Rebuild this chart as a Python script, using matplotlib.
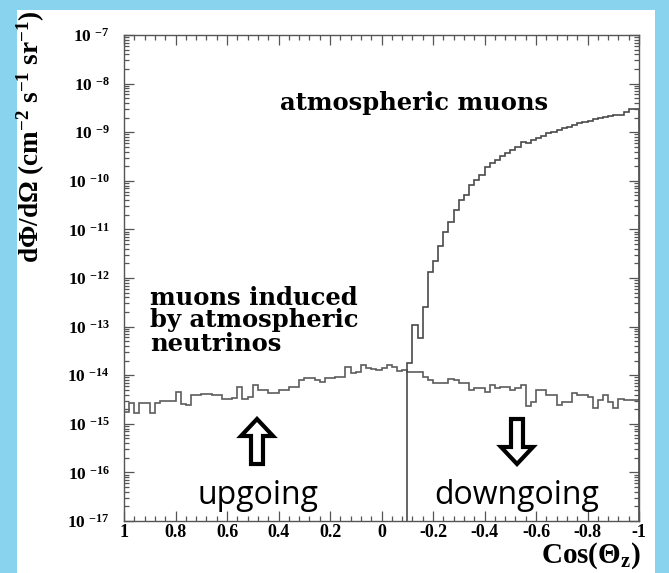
import numpy as np
import matplotlib
matplotlib.use("Agg")
import matplotlib.pyplot as plt
from matplotlib.patches import Rectangle, Polygon
from matplotlib.ticker import MultipleLocator, LogLocator, NullFormatter

plt.rcParams['mathtext.fontset'] = 'custom'
plt.rcParams['mathtext.rm'] = 'Liberation Serif:bold'
plt.rcParams['mathtext.bf'] = 'Liberation Serif:bold'
plt.rcParams['mathtext.it'] = 'Liberation Serif:bold:italic'
plt.rcParams['mathtext.default'] = 'rm'
SERIF = 'Liberation Serif'

# 100 bins of cos(theta_z), histogram runs from +1 (left) to -1 (right)
cos_edges = np.linspace(1, -1, 101)

# muons induced by atmospheric neutrinos, units of 1e-15 cm-2 s-1 sr-1
nu_flux_e15 = [1.78, 2.63, 1.66, 2.65, 2.65, 1.70, 2.63, 3.0, 3.0, 3.0,
               4.6, 2.5, 2.45, 3.9, 3.9, 4.2, 4.2, 4.0, 3.9, 3.3,
               3.3, 3.4, 5.6, 3.3, 3.6, 6.3, 5.0, 5.0, 4.3, 4.3,
               5.0, 5.0, 5.75, 5.75, 7.9, 8.7, 8.7, 8.0, 7.4, 8.7,
               8.7, 9.3, 9.0, 14.8, 11.0, 11.5, 16.2, 13.8, 13.2, 12.9,
               14.0, 16.0, 14.5, 12.0, 12.5, 11.7, 11.7, 11.7, 9.3, 7.9,
               6.8, 6.8, 6.8, 8.5, 7.9, 6.8, 6.8, 5.0, 5.4, 5.4,
               4.6, 6.3, 5.4, 5.6, 5.6, 5.0, 5.4, 6.3, 2.3, 2.8,
               5.0, 5.0, 3.9, 3.9, 2.45, 2.8, 2.8, 4.4, 3.9, 3.9,
               3.6, 2.1, 3.1, 3.9, 2.8, 2.1, 3.3, 3.1, 3.1, 3.1]

# atmospheric muons: empty for cos > -0.1, so first filled bin is number 55
atm_first_bin = 55
atm_flux = [1.8e-14, 1.07e-13, 5.9e-14, 2.5e-13, 1.35e-12, 2.2e-12, 4.6e-12, 8.9e-12, 1.44e-11,
            2.5e-11, 4.0e-11, 5.1e-11, 8.2e-11, 1.04e-10, 1.32e-10, 1.95e-10, 2.3e-10, 2.7e-10,
            3.2e-10, 3.7e-10, 4.3e-10, 4.9e-10, 6.2e-10, 5.9e-10, 6.9e-10, 7.5e-10, 8.3e-10,
            9.5e-10, 1.02e-9, 1.12e-9, 1.2e-9, 1.26e-9, 1.41e-9, 1.58e-9, 1.65e-9, 1.73e-9,
            1.85e-9, 1.94e-9, 2.1e-9, 2.2e-9, 2.3e-9, 2.3e-9, 2.6e-9, 2.95e-9, 2.95e-9]

xtick_vals = [1, 0.8, 0.6, 0.4, 0.2, 0, -0.2, -0.4, -0.6, -0.8, -1]
xtick_labels = ['1', '0.8', '0.6', '0.4', '0.2', '0', '-0.2', '-0.4', '-0.6', '-0.8', '-1']
ytick_exps = [-17, -16, -15, -14, -13, -12, -11, -10, -9, -8, -7]

W, H = 669, 573
fig = plt.figure(figsize=(W / 100, H / 100), dpi=100)
fig.patch.set_facecolor('#8ad3ef')
# white slide panel behind the plot
fig.add_artist(Rectangle((17 / W, 0), (655 - 17) / W, (H - 10) / H, transform=fig.transFigure,
                         facecolor='white', edgecolor='none', zorder=0))

ax = fig.add_axes([124 / W, (H - 521) / H, 515 / W, 486 / H])
ax.set_facecolor('white')
ax.set_yscale('log')

ax.stairs(np.array(nu_flux_e15) * 1e-15, cos_edges, baseline=None, color='#5c5c5c', lw=1.2)
ax.stairs(atm_flux, cos_edges[atm_first_bin:], baseline=1e-20, color='#4a4a4a', lw=1.2)

ax.set_xlim(1, -1)
ax.set_ylim(1e-17, 1e-7)

ax.set_xticks(xtick_vals)
ax.set_xticklabels(xtick_labels, fontfamily=SERIF, fontweight='bold', fontsize=13)
ax.xaxis.set_minor_locator(MultipleLocator(0.04))
ax.set_yticks([10.0 ** e for e in ytick_exps])
ax.set_yticklabels(['10 $^{%d}$' % e for e in ytick_exps], fontfamily=SERIF, fontweight='bold', fontsize=12.5)
ax.yaxis.set_minor_locator(LogLocator(base=10, subs=np.arange(2, 10), numticks=100))
ax.yaxis.set_minor_formatter(NullFormatter())
ax.tick_params(which='both', direction='in', top=True, right=True, color='#555555', width=0.9)
ax.tick_params(which='major', length=7.5)
ax.tick_params(which='minor', length=3.5)
ax.tick_params(axis='x', pad=2)
ax.tick_params(axis='y', pad=10)
for s in ax.spines.values():
    s.set_color('#555555')
    s.set_linewidth(1.0)

# axis titles (ROOT style, placed at the axis ends)
fig.text(31 / W, 1 - 10 / H, 'd\u03a6/d\u03a9 (cm$^{-2}$ s$^{-1}$ sr$^{-1}$)', rotation=90,
         ha='center', va='top', fontsize=19.5, fontfamily=SERIF, fontweight='bold')
fig.text(641 / W, 1 - 563 / H, 'Cos(\u0398$_{z}$)', ha='right', va='baseline',
         fontsize=21, fontfamily=SERIF, fontweight='bold')

# annotations
ax.text(0.823, 0.846, 'atmospheric muons', transform=ax.transAxes, ha='right', va='baseline',
        fontsize=17.5, fontfamily='DejaVu Serif', fontweight='bold')
for txt, fy in [('muons induced', 0.444), ('by atmospheric', 0.399), ('neutrinos', 0.35)]:
    ax.text(0.0505, fy, txt, transform=ax.transAxes, ha='left', va='baseline',
            fontsize=17.5, fontfamily='DejaVu Serif', fontweight='bold')
ax.text(0.26, 0.035, 'upgoing', transform=ax.transAxes, ha='center', va='baseline',
        fontsize=23, fontfamily='Open Sans')
ax.text(0.763, 0.035, 'downgoing', transform=ax.transAxes, ha='center', va='baseline',
        fontsize=23, fontfamily='Open Sans')


def hollow_arrow(cx, y_tail, y_tip, head_half=16, shaft_half=6, head_len=17):
    d = 1 if y_tail > y_tip else -1
    yb = y_tip + d * head_len
    pts = [(cx, y_tip), (cx + head_half, yb), (cx + shaft_half, yb), (cx + shaft_half, y_tail),
           (cx - shaft_half, y_tail), (cx - shaft_half, yb), (cx - head_half, yb)]
    pts = [(x / W, 1 - y / H) for x, y in pts]
    fig.add_artist(Polygon(pts, closed=True, transform=fig.transFigure, facecolor='white',
                           edgecolor='black', lw=3.0, joinstyle='miter', zorder=5))


hollow_arrow(257, 464, 419)
hollow_arrow(517, 419, 464)

fig.savefig('out.png', dpi=100, facecolor=fig.get_facecolor())
